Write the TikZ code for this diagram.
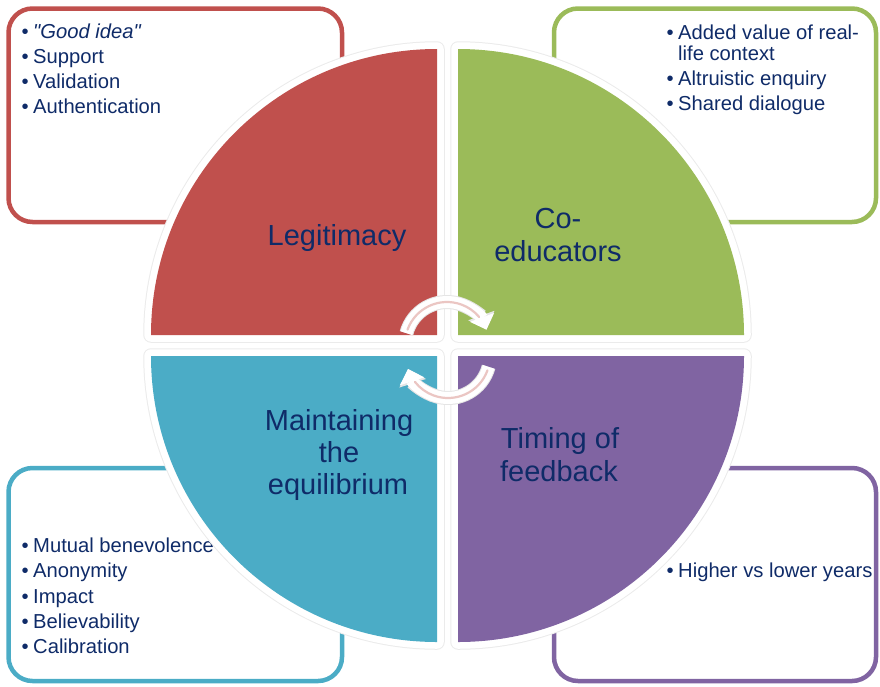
\documentclass[tikz,border=0pt]{standalone}
\usepackage{fontspec}
\setmainfont{Liberation Sans}[Ligatures=TeXOff]
\usetikzlibrary{arrows.meta}
\definecolor{qred}{HTML}{C0504D}
\definecolor{qgreen}{HTML}{9BBB59}
\definecolor{qblue}{HTML}{4BACC6}
\definecolor{qpurple}{HTML}{8064A2}
\definecolor{navy}{HTML}{0F2B68}
\definecolor{pinkline}{HTML}{EBC6C3}
\newcommand{\bul}{\makebox[11.5pt][l]{•}}
\begin{document}
\begin{tikzpicture}[x=1pt,y=-1pt,
  box/.style={line width=4.5pt, rounded corners=24pt},
  item/.style={anchor=base west, inner sep=0pt, text=navy, font=\fontsize{20.2}{22}\selectfont},
  qlabel/.style={anchor=base, inner sep=0pt, text=navy, font=\fontsize{29}{33}\selectfont},
  qshadow/.style={draw=black!8, line width=15.5pt, line join=round},
  qwhite/.style={draw=white, line width=13.5pt, line join=round},
  arrshadow/.style={draw=black!10, line width=14pt, -{Triangle[width=27pt,length=15pt]}},
  arrwhite/.style={draw=white, line width=12pt, -{Triangle[width=25pt,length=13pt]}},
  arrpink/.style={draw=pinkline, line width=2.2pt, line cap=round},
]
\useasboundingbox (0,0) rectangle (880,686);

% outer boxes
\draw[box, draw=qred]    (8.5,8.5)   rectangle (342,222);
\draw[box, draw=qgreen]  (554,8.5)   rectangle (876,222);
\draw[box, draw=qblue]   (8.5,468)   rectangle (342,681);
\draw[box, draw=qpurple] (554,468)   rectangle (876,681);

% box texts
\node[item] (tl1) at (21.5,38)  {\bul\textit{"Good idea"}};
\node[item] (tl2) at (21.5,63)  {\bul Support};
\node[item] (tl3) at (21.5,88)  {\bul Validation};
\node[item] (tl4) at (21.5,113) {\bul Authentication};

\node[item] (tr1) at (666.5,39)  {\bul Added value of real-};
\node[item] (tr1b) at (678,60)   {life context};
\node[item] (tr2) at (666.5,85)  {\bul Altruistic enquiry};
\node[item] (tr3) at (666.5,110) {\bul Shared dialogue};

\node[item] (bl1) at (21.5,552) {\bul Mutual benevolence};
\node[item] (bl2) at (21.5,577) {\bul Anonymity};
\node[item] (bl3) at (21.5,603) {\bul Impact};
\node[item] (bl4) at (21.5,628) {\bul Believability};
\node[item] (bl5) at (21.5,653) {\bul Calibration};

\node[item] (br1) at (666.5,577) {\bul Higher vs lower years};

% quadrants
\foreach \st in {qshadow,qwhite}{
  \path[\st] (437,335) -- (151,335) arc[start angle=180,end angle=270,radius=286] -- cycle;
  \path[\st] (458,335) -- (458,49)  arc[start angle=270,end angle=360,radius=286] -- cycle;
  \path[\st] (458,356) -- (744,356) arc[start angle=0,end angle=90,radius=286] -- cycle;
  \path[\st] (437,356) -- (437,642) arc[start angle=90,end angle=180,radius=286] -- cycle;
}
\fill[qred]    (437,335) -- (151,335) arc[start angle=180,end angle=270,radius=286] -- cycle;
\fill[qgreen]  (458,335) -- (458,49)  arc[start angle=270,end angle=360,radius=286] -- cycle;
\fill[qpurple] (458,356) -- (744,356) arc[start angle=0,end angle=90,radius=286] -- cycle;
\fill[qblue]   (437,356) -- (437,642) arc[start angle=90,end angle=180,radius=286] -- cycle;

% quadrant labels
\node[qlabel] (leg)  at (337,245) {Legitimacy};
\node[qlabel] (co1)  at (558,228) {Co-};
\node[qlabel] (co2)  at (558,261) {educators};
\node[qlabel] (ma1)  at (339,430) {Maintaining};
\node[qlabel] (ma2)  at (339,462) {the};
\node[qlabel] (ma3)  at (338,494) {equilibrium};
\node[qlabel] (ti1)  at (560,448) {Timing of};
\node[qlabel] (ti2)  at (559,481) {feedback};

% circular arrows
\coordinate (cu) at (447,344);
\coordinate (cl) at (448,356);
\path[arrshadow] (cu) ++(-165:42) arc[start angle=-165,end angle=-20,radius=42];
\path[arrshadow] (cl) ++(15:42)   arc[start angle=15,end angle=162,radius=42];
\path[arrwhite]  (cu) ++(-165:42) arc[start angle=-165,end angle=-20,radius=42];
\path[arrwhite]  (cl) ++(15:42)   arc[start angle=15,end angle=162,radius=42];
\path[arrpink]   (cu) ++(-160:42) arc[start angle=-160,end angle=-40,radius=42];
\path[arrpink]   (cl) ++(20:42)   arc[start angle=20,end angle=142,radius=42];
\end{tikzpicture}
\end{document}
